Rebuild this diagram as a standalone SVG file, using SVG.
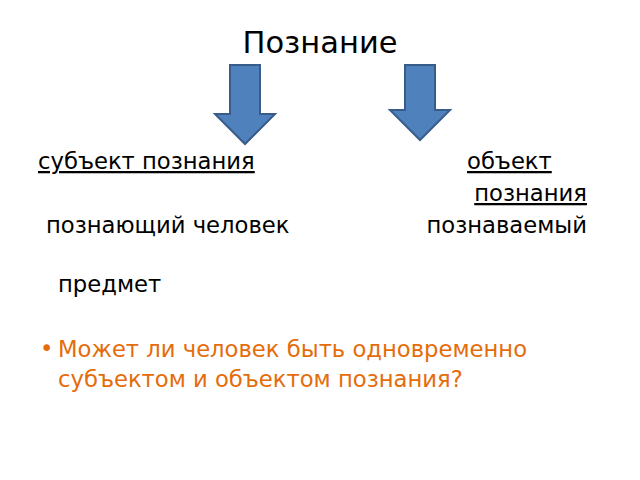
<svg xmlns="http://www.w3.org/2000/svg" width="640" height="480" viewBox="0 0 640 480">
<style>
text{font-family:"DejaVu Sans",sans-serif;font-size:22.7px;fill:#000}
.u{text-decoration:underline}
.o{fill:#e46c0a}
.arr{fill:#4f81bd;stroke:#385d8a;stroke-width:2}
</style>
<rect width="640" height="480" fill="#fff"/>
<g id="title"><text x="320" y="53" text-anchor="middle" style="font-size:30.5px">Познание</text></g>
<g id="connectors">
<path class="arr" d="M230 65H260V114H275L245 144L215 114H230Z"/>
<path class="arr" d="M405 65H435V110H450L420 140L390 110H405Z"/>
</g>
<g id="subject"><text x="38" y="169" class="u">субъект познания</text>
<text x="46" y="233">познающий человек</text></g>
<g id="object"><text x="467" y="169" class="u">объект</text>
<text x="587" y="201" text-anchor="end" class="u">познания</text>
<text x="587" y="233" text-anchor="end">познаваемый</text>
<text x="58" y="292">предмет</text></g>
<g id="question"><text x="40" y="356" class="o">•</text>
<text x="58" y="357" class="o">Может ли человек быть одновременно</text>
<text x="58" y="387" class="o">субъектом и объектом познания?</text></g>
</svg>
